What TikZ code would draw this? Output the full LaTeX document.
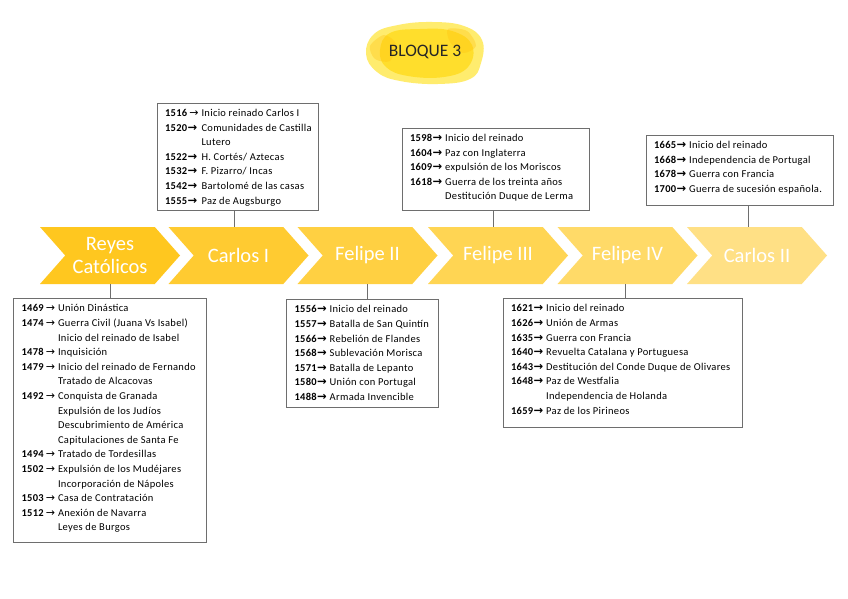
\documentclass[tikz,border=0pt]{standalone}
\usepackage{fontspec}
\setmainfont{Carlito}
\newfontfamily\boxfont{Carlito}[LetterSpace=3]
\newfontfamily\arrowfont{DejaVu Sans}
\usetikzlibrary{positioning,shapes.symbols}
\definecolor{GoldA}{HTML}{FFC71F}
\definecolor{GoldB}{HTML}{FFCB31}
\definecolor{GoldC}{HTML}{FFD042}
\definecolor{GoldD}{HTML}{FFD553}
\definecolor{GoldE}{HTML}{FFDA68}
\definecolor{GoldF}{HTML}{FFE085}
\definecolor{BoxGray}{HTML}{6E6E6E}
\definecolor{BlobLight}{HTML}{FFE84A}
\definecolor{BlobDeep}{HTML}{FFD600}
\definecolor{BlobOrange}{HTML}{FFC20E}
\newcommand\yr[1]{\textbf{#1}{\arrowfont\bfseries\fontsize{11.5}{11.5}\selectfont →}}
\newcommand\yrl[1]{\textbf{#1}\,{\arrowfont\fontsize{11}{11}\selectfont →}}
\newcommand\evlist[3]{\parbox[t][#2pt][t]{#1pt}{\begin{tabular}{@{}l@{\hspace{3pt}}l@{}}#3\end{tabular}}}

\begin{document}
\begin{tikzpicture}[
  x=1pt, y=-1pt,
  chev/.style={signal, signal to=east, signal from=west, signal pointer angle=97,
               minimum width=140pt, minimum height=57pt, inner sep=0pt,
               text=white, align=center, font=\fontsize{20.5}{22.5}\selectfont},
  evbox/.style={draw=BoxGray, line width=0.9pt, fill=white, inner xsep=8pt,
                inner ysep=3pt, font=\boxfont\fontsize{10.5}{14.6}\selectfont},
  link/.style={draw=BoxGray, line width=0.9pt}
]
\useasboundingbox[fill=white] (0,0) rectangle (848,599);

% title
\fill[BlobLight, opacity=0.8] plot[smooth cycle, tension=0.7]
  coordinates {(366,54) (374,34) (398,25) (432,22) (464,26) (482,40) (481,63) (470,79) (438,84) (400,81) (377,72)};
\fill[BlobDeep, opacity=0.6] plot[smooth cycle, tension=0.7]
  coordinates {(380,50) (390,33) (420,29) (452,31) (472,45) (468,67) (444,77) (408,76) (386,67)};
\fill[BlobOrange, opacity=0.35] plot[smooth cycle]
  coordinates {(370,46) (384,35) (396,44) (390,61) (375,59)};
\fill[BlobOrange, opacity=0.35] plot[smooth cycle]
  coordinates {(448,29) (467,31) (476,46) (463,53) (450,42)};
\node[font=\fontsize{17.5}{20}\selectfont, text=black!85] (title) at (425,52) {BLOQUE 3};

% timeline
\foreach \n/\x/\c/\t in {rc/110/GoldA/{Reyes\\Católicos}, c1/238.5/GoldB/{Carlos I},
    f2/367.5/GoldC/{Felipe II}, f3/498/GoldD/{Felipe III},
    f4/627.5/GoldE/{Felipe IV}, c2/757/GoldF/{Carlos II}}
  \node[chev, fill=\c] (\n) at (\x,255.5) {\t};

% boxes below
\node[evbox, below=14pt of rc] (rcbox) {\evlist{177}{238}{%
  \yrl{1469} & Unión Dinástica\\
  \yrl{1474} & Guerra Civil (Juana Vs Isabel)\\
   & Inicio del reinado de Isabel\\
  \yrl{1478} & Inquisición\\
  \yrl{1479} & Inicio del reinado de Fernando\\
   & Tratado de Alcacovas\\
  \yrl{1492} & Conquista de Granada\\
   & Expulsión de los Judíos\\
   & Descubrimiento de América\\
   & Capitulaciones de Santa Fe\\
  \yrl{1494} & Tratado de Tordesillas\\
  \yrl{1502} & Expulsión de los Mudéjares\\
   & Incorporación de Nápoles\\
  \yrl{1503} & Casa de Contratación\\
  \yrl{1512} & Anexión de Navarra\\
   & Leyes de Burgos}};
\node[evbox, below=15pt of f2, xshift=-5pt] (f2box) {\evlist{136}{102}{%
  \yr{1556} & Inicio del reinado\\
  \yr{1557} & Batalla de San Quintín\\
  \yr{1566} & Rebelión de Flandes\\
  \yr{1568} & Sublevación Morisca\\
  \yr{1571} & Batalla de Lepanto\\
  \yr{1580} & Unión con Portugal\\
  \yr{1488} & Armada Invencible}};
\node[evbox, below=14pt of f4, xshift=-5pt] (f4box) {\evlist{223}{123}{%
  \yr{1621} & Inicio del reinado\\
  \yr{1626} & Unión de Armas\\
  \yr{1635} & Guerra con Francia\\
  \yr{1640} & Revuelta Catalana y Portuguesa\\
  \yr{1643} & Destitución del Conde Duque de Olivares\\
  \yr{1648} & Paz de Westfalia\\
   & Independencia de Holanda\\
  \yr{1659} & Paz de los Pirineos}};

% boxes above
\node[evbox, above=16pt of c1, xshift=-1pt] (c1box) {\evlist{145}{101}{%
  \yrl{1516} & Inicio reinado Carlos I\\
  \yr{1520} & Comunidades de Castilla\\
   & Lutero\\
  \yr{1522} & H. Cortés/ Aztecas\\
  \yr{1532} & F. Pizarro/ Incas\\
  \yr{1542} & Bartolomé de las casas\\
  \yr{1555} & Paz de Augsburgo}};
\node[evbox, above=16pt of f3, xshift=-2.5pt] (f3box) {\evlist{171}{76}{%
  \yr{1598} & Inicio del reinado\\
  \yr{1604} & Paz con Inglaterra\\
  \yr{1609} & expulsión de los Moriscos\\
  \yr{1618} & Guerra de los treinta años\\
   & Destitución Duque de Lerma}};
\node[evbox, above=21pt of c2, xshift=-17.5pt] (c2box) {\evlist{171}{64}{%
  \yr{1665} & Inicio del reinado\\
  \yr{1668} & Independencia de Portugal\\
  \yr{1678} & Guerra con Francia\\
  \yr{1700} & Guerra de sucesión española.}};

% connectors
\foreach \n/\s in {rc/0, f2/0, f4/-2.5}
  \draw[link] ([xshift=\s pt]\n.south) -- ([xshift=\s pt]\n.south |- \n box.north);
\foreach \n/\s in {c1/-4.5, f3/-5, c2/-9}
  \draw[link] ([xshift=\s pt]\n.north) -- ([xshift=\s pt]\n.north |- \n box.south);
\end{tikzpicture}
\end{document}
